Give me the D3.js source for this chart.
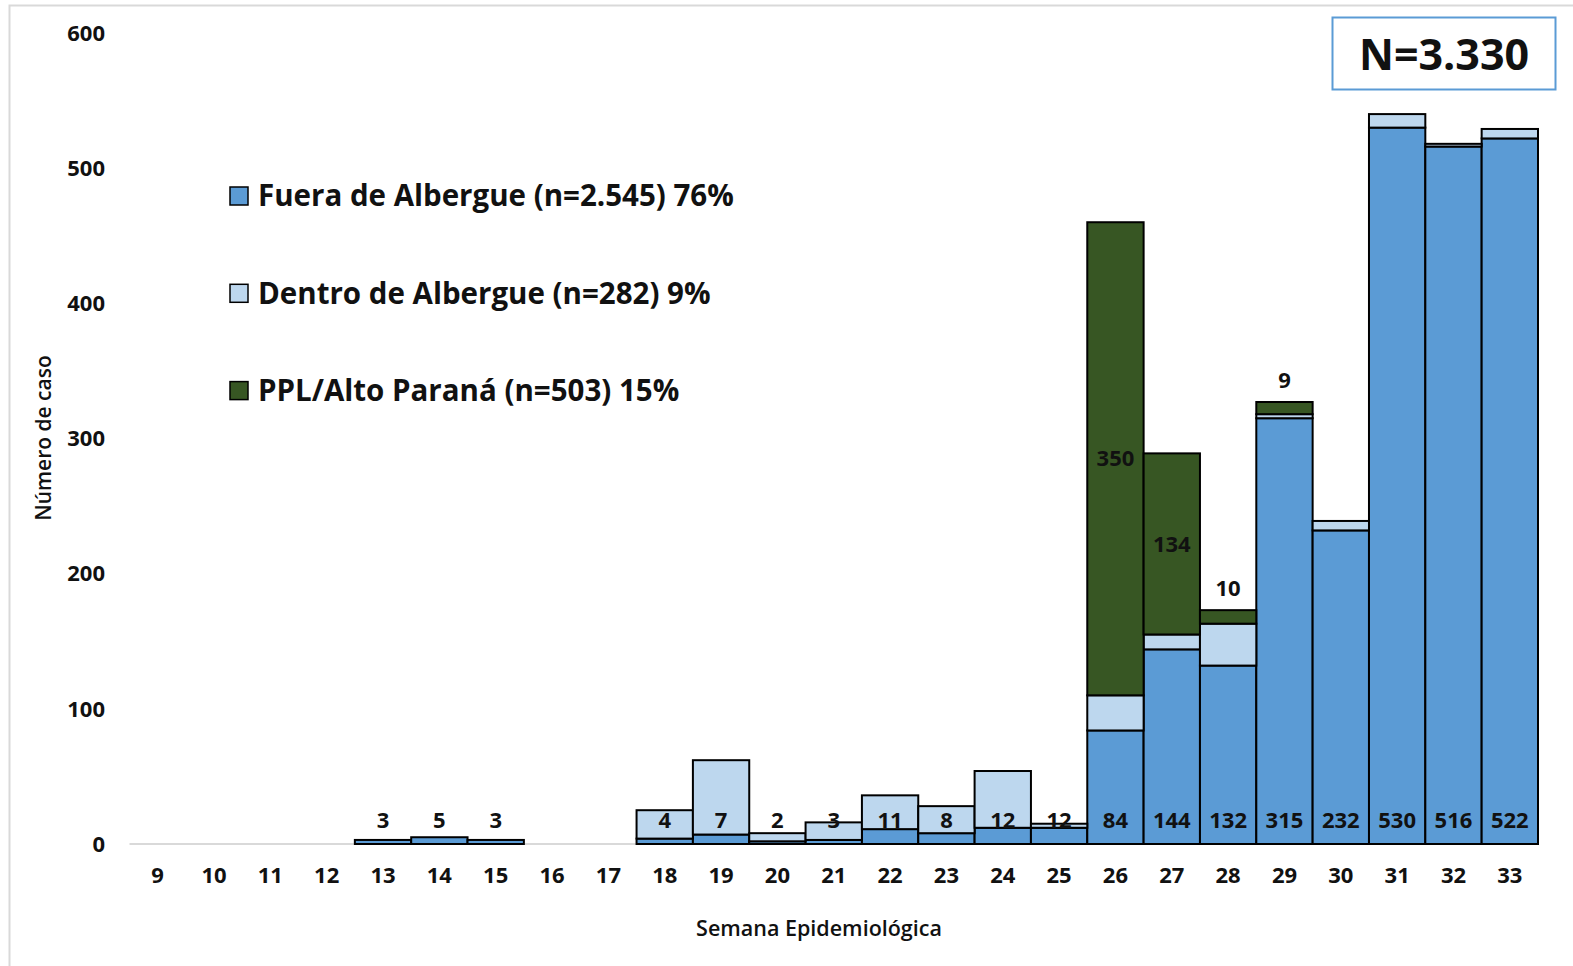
<!DOCTYPE html>
<html>
<head>
<meta charset="utf-8">
<script src="https://cdn.jsdelivr.net/npm/d3@7"></script>
<style>
  body { margin: 0; background: #fff; }
  text { font-family: "Open Sans", "Noto Sans", sans-serif; fill: #111; }
</style>
</head>
<body>
<div id="chart"></div>
<script>
// weeks and case counts per group
const weeks  = [9, 10, 11, 12, 13, 14, 15, 16, 17, 18, 19, 20, 21, 22, 23, 24, 25, 26, 27, 28, 29, 30, 31, 32, 33];
const fuera  = [0, 0, 0, 0, 3, 5, 3, 0, 0, 4, 7, 2, 3, 11, 8, 12, 12, 84, 144, 132, 315, 232, 530, 516, 522];
const dentro = [0, 0, 0, 0, 0, 0, 0, 0, 0, 21, 55, 6, 13, 25, 20, 42, 3, 26, 11, 31, 3, 7, 10, 2, 7];
const ppl    = [0, 0, 0, 0, 0, 0, 0, 0, 0, 0, 0, 0, 0, 0, 0, 0, 0, 350, 134, 10, 9, 0, 0, 0, 0];
const yTicks = [0, 100, 200, 300, 400, 500, 600];
const legendLabels = ["Fuera de Albergue (n=2.545) 76%", "Dentro de Albergue (n=282) 9%", "PPL/Alto Paraná (n=503) 15%"];
const keys = ["fuera", "dentro", "ppl"];
const colors = {fuera: "#5b9bd5", dentro: "#bdd7ee", ppl: "#375623"};

let width = 1573, height = 966;
let svg = d3.select("#chart").append("svg")
  .attr("width", width).attr("height", height);

// chart frame (only left and top edges are visible)
svg.append("path")
  .attr("d", "M9.5,966 V5.5 H1573")
  .attr("fill", "none").attr("stroke", "#d9d9d9").attr("stroke-width", 2);

let x = d3.scaleBand().domain(weeks).range([129.5, 1538]).padding(0);
let y = d3.scaleLinear().domain([0, 600]).range([844, 33]);

let rows = weeks.map((w, i) => ({week: w, fuera: fuera[i], dentro: dentro[i], ppl: ppl[i]}));
let series = d3.stack().keys(keys)(rows);

// baseline
svg.append("line")
  .attr("x1", x.range()[0]).attr("x2", x.range()[1])
  .attr("y1", y(0)).attr("y2", y(0))
  .attr("stroke", "#d9d9d9").attr("stroke-width", 2);

// bars
series.forEach(s => {
  svg.append("g").selectAll("rect")
    .data(s.filter(d => d[1] - d[0] > 0))
    .enter().append("rect")
    .attr("x", d => x(d.data.week))
    .attr("width", x.bandwidth())
    .attr("y", d => y(d[1]))
    .attr("height", d => y(d[0]) - y(d[1]))
    .attr("fill", colors[s.key])
    .attr("stroke", "#000")
    .attr("stroke-width", 2);
});

let numSize = "22px";

// y tick labels
svg.append("g").selectAll("text")
  .data(yTicks).enter().append("text")
  .attr("x", 105).attr("y", d => y(d))
  .attr("dy", "0.35em")
  .attr("text-anchor", "end")
  .style("font-size", numSize).style("font-weight", 700)
  .text(d => d);

// x tick labels
svg.append("g").selectAll("text")
  .data(weeks).enter().append("text")
  .attr("x", d => x(d) + x.bandwidth() / 2).attr("y", 875)
  .attr("dy", "0.35em")
  .attr("text-anchor", "middle")
  .style("font-size", numSize).style("font-weight", 700)
  .text(d => d);

// fuera labels, inside base
svg.append("g").selectAll("text")
  .data(rows.filter(d => d.fuera > 0)).enter().append("text")
  .attr("x", d => x(d.week) + x.bandwidth() / 2).attr("y", 820)
  .attr("dy", "0.35em")
  .attr("text-anchor", "middle")
  .style("font-size", numSize).style("font-weight", 700)
  .text(d => d.fuera);

// ppl labels: centred if tall enough, else above the bar
let pplSeries = series[2].filter(d => d[1] - d[0] > 0);
svg.append("g").selectAll("text")
  .data(pplSeries).enter().append("text")
  .attr("x", d => x(d.data.week) + x.bandwidth() / 2)
  .attr("y", d => {
    let top = y(d[1]), bot = y(d[0]);
    return (bot - top) > 40 ? (top + bot) / 2 : top - 22;
  })
  .attr("dy", "0.35em")
  .attr("text-anchor", "middle")
  .style("font-size", numSize).style("font-weight", 700)
  .text(d => d[1] - d[0]);

// axis titles
svg.append("text")
  .attr("transform", "translate(44,438) rotate(-90)")
  .attr("dy", "0.35em")
  .attr("text-anchor", "middle")
  .style("font-size", "21px").style("font-weight", 600)
  .text("Número de caso");
svg.append("text")
  .attr("x", 819).attr("y", 928)
  .attr("dy", "0.35em")
  .attr("text-anchor", "middle")
  .style("font-size", "21.5px").style("font-weight", 600)
  .text("Semana Epidemiológica");

// legend
let legend = svg.append("g").selectAll("g")
  .data(keys).enter().append("g")
  .attr("transform", (d, i) => "translate(230," + (196 + i * 97.3) + ")");
legend.append("rect")
  .attr("x", 0).attr("y", -9).attr("width", 18).attr("height", 18)
  .attr("fill", d => colors[d]).attr("stroke", "#000").attr("stroke-width", 1.5);
legend.append("text")
  .attr("x", 28).attr("y", 0).attr("dy", "0.35em")
  .style("font-size", "29.5px").style("font-weight", 700)
  .text((d, i) => legendLabels[i]);

// total box
svg.append("rect")
  .attr("x", 1332.5).attr("y", 17.5).attr("width", 223).attr("height", 72)
  .attr("fill", "#fff").attr("stroke", "#5b9bd5").attr("stroke-width", 2);
svg.append("text")
  .attr("x", 1444).attr("y", 55).attr("dy", "0.35em")
  .attr("text-anchor", "middle")
  .style("font-size", "43px").style("font-weight", 700)
  .text("N=3.330");
</script>
</body>
</html>
